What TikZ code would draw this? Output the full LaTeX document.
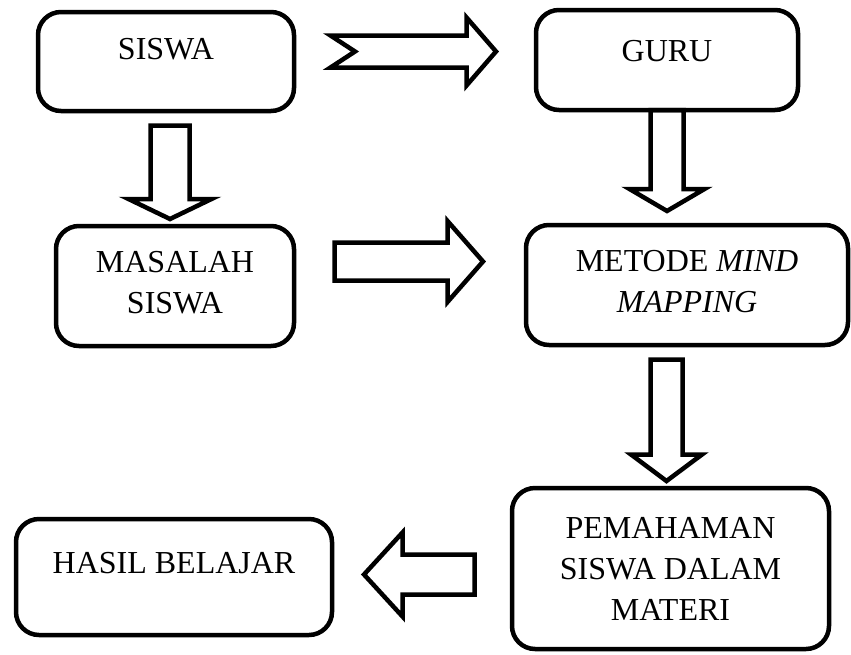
\documentclass[tikz,border=0pt]{standalone}
\usepackage{fontspec}
\setmainfont{Liberation Serif}
\usetikzlibrary{calc}

\tikzset{every picture/.style={line width=4.5pt}}
\tikzset{
	box/.style={draw, rounded corners=23pt, align=center, inner sep=0pt, outer sep=0pt,
		font=\fontsize{32}{41}\selectfont},
	block arrow/.style n args={4}{to path={
		($(\tikztostart)!#1!90:(\tikztotarget)$)
		-- ($(\tikztotarget)!#3!(\tikztostart)!#1!-90:(\tikztostart)$)
		-- ($(\tikztotarget)!#3!(\tikztostart)!#2!-90:(\tikztostart)$)
		-- (\tikztotarget)
		-- ($(\tikztotarget)!#3!(\tikztostart)!#2!90:(\tikztostart)$)
		-- ($(\tikztotarget)!#3!(\tikztostart)!#1!90:(\tikztostart)$)
		-- ($(\tikztostart)!#1!-90:(\tikztotarget)$)
		-- ($(\tikztostart)!#4!(\tikztotarget)$)
		-- cycle}}}

\begin{document}
\begin{tikzpicture}[x=1pt,y=1pt,yscale=-1,xscale=1]
	\useasboundingbox (0,0) rectangle (851,654);

	%Shape: Rounded Rect [id:siswa]
	\node[box, minimum width=256pt, minimum height=99pt, text depth=26pt] (siswa) at (166,61.5) {SISWA};
	%Shape: Rounded Rect [id:guru]
	\node[box, minimum width=262pt, minimum height=100pt, text depth=19pt] (guru) at (667,60) {GURU};
	%Shape: Rounded Rect [id:masalah]
	\node[box, minimum width=238pt, minimum height=120pt, text depth=7pt] (masalah) at (175,286) {MASALAH\\SISWA};
	%Shape: Rounded Rect [id:metode]
	\node[box, minimum width=322pt, minimum height=120pt, text depth=8pt] (metode) at (687,285) {METODE \textit{MIND}\\\textit{MAPPING}};
	%Shape: Rounded Rect [id:pemahaman]
	\node[box, minimum width=317pt, minimum height=161pt] (pemahaman) at (670.5,568.5) {PEMAHAMAN\\SISWA DALAM\\MATERI};
	%Shape: Rounded Rect [id:hasil]
	\node[box, minimum width=316pt, minimum height=116pt, text depth=28pt] (hasil) at (174,577) {HASIL BELAJAR};

	% arrow ends
	\coordinate (a1s) at ($(siswa.east)+(36.5,-10)$);
	\coordinate (a1t) at ($(guru.west)+(-40,-8.5)$);
	\coordinate (a2s) at ($(siswa.south)+(4,14.5)$);
	\coordinate (a2t) at ($(masalah.north)+(-5,-7)$);
	\coordinate (a3s) at (guru.south);
	\coordinate (a3t) at ($(metode.north)+(-20,-14)$);
	\coordinate (a4s) at ($(masalah.east)+(40.5,-24.5)$);
	\coordinate (a4t) at ($(metode.west)+(-43,-23.5)$);
	\coordinate (a5s) at ($(metode.south)+(-20.5,14.5)$);
	\coordinate (a5t) at ($(pemahaman.north)+(-4,-7)$);
	\coordinate (a6s) at ($(pemahaman.west)+(-37.5,6)$);
	\coordinate (a6t) at ($(hasil.east)+(32,-2.5)$);

	%Block Arrows
	\draw (a1s) to[block arrow={16pt}{34pt}{29.5pt}{24.5pt}] (a1t);
	\draw (a2s) to[block arrow={19.5pt}{41.5pt}{20pt}{0pt}] (a2t);
	\draw (a3s) to[block arrow={16.5pt}{37.5pt}{22pt}{0pt}] (a3t);
	\draw (a4s) to[block arrow={19pt}{40.5pt}{35.5pt}{0pt}] (a4t);
	\draw (a5s) to[block arrow={16pt}{35.5pt}{26.5pt}{0pt}] (a5t);
	\draw (a6s) to[block arrow={20pt}{42pt}{38.5pt}{0pt}] (a6t);

\end{tikzpicture}
\end{document}
